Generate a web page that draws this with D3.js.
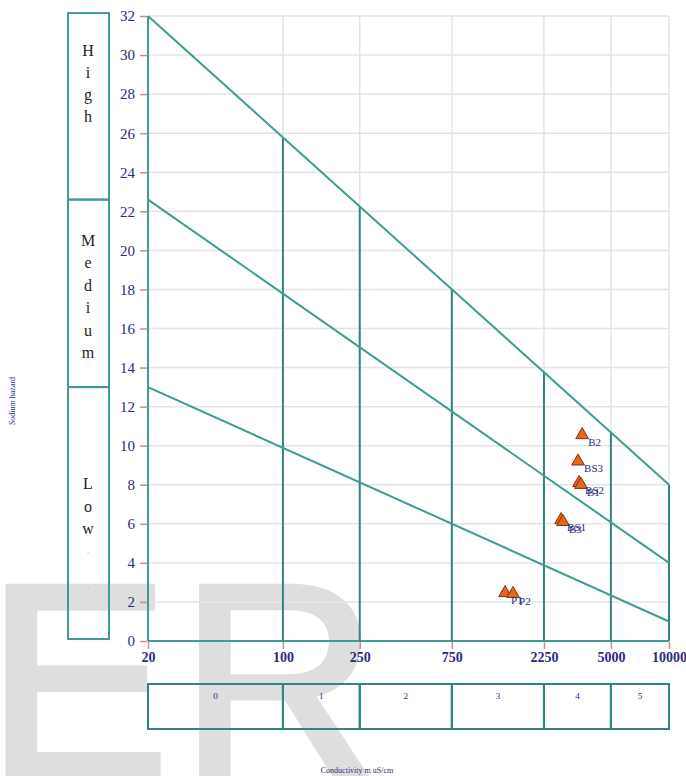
<!DOCTYPE html>
<html>
<head>
<meta charset="utf-8">
<script src="https://cdn.jsdelivr.net/npm/d3@7/dist/d3.min.js"></script>
<style>
body { margin: 0; background: #fff; }
svg { display: block; }
</style>
</head>
<body>
<svg width="686" height="776"></svg>
<script>
// conductivity ticks (uS/cm) and sodium hazard ticks
var ecTicks = [20, 100, 250, 750, 2250, 5000, 10000];
var sarTicks = [0, 2, 4, 6, 8, 10, 12, 14, 16, 18, 20, 22, 24, 26, 28, 30, 32];
var salinityClasses = ["0", "1", "2", "3", "4", "5"];

// sodium hazard classes: label, top and bottom SAR at EC=20
var hazardNames = ["High", "Medium", "Low"];
var hazardTop = [32.15, 22.6, 13];
var hazardBottom = [22.6, 13, 0.1];

// boundary lines: SAR at EC=20 and at EC=10000
var lineStart = [32, 22.6, 13];
var lineEnd = [8, 4, 1];

// samples
var sampleNames = ["B2", "BS3", "BS2", "B1", "BS1", "B3", "P1", "P2"];
var sampleEC = [3548, 3380, 3420, 3500, 2760, 2825, 1415, 1556];
var sampleSAR = [10.55, 9.2, 8.1, 8.0, 6.2, 6.1, 2.46, 2.42];

var svg = d3.select("svg");
var teal = "#3f9c95";
var navy = "#2b2c7c";

var x = d3.scaleLog().domain([20, 10000]).range([148, 669]);
var y = d3.scaleLinear().domain([0, 32]).range([641, 16]);

// watermark, behind the chart
svg.append("text")
  .attr("x", -14).attr("y", 776)
  .attr("fill", "#dedede")
  .attr("stroke", "#dedede").attr("stroke-width", 6)
  .style("font-family", "Liberation Sans, Arial, sans-serif")
  .style("font-size", "275px")
  .style("letter-spacing", "10px")
  .text("ER");

// gridlines
svg.append("g")
  .selectAll("line")
  .data(sarTicks)
  .enter()
  .append("line")
  .attr("x1", x(20)).attr("x2", x(10000))
  .attr("y1", d => y(d)).attr("y2", d => y(d))
  .attr("stroke", "#e4e4e4").attr("stroke-width", 1.5);

svg.append("g")
  .selectAll("line")
  .data(ecTicks)
  .enter()
  .append("line")
  .attr("x1", d => x(d)).attr("x2", d => x(d))
  .attr("y1", y(0)).attr("y2", y(32))
  .attr("stroke", "#e4e4e4").attr("stroke-width", 1.5);

// y axis
var yAxis = svg.append("g")
  .attr("transform", "translate(" + (x(20) - 1) + ",0)")
  .call(d3.axisLeft(y).tickValues(sarTicks).tickSize(7).tickPadding(5));
yAxis.select(".domain").remove();
yAxis.selectAll(".tick line").attr("stroke", "#d88888").attr("stroke-width", 1.5);
yAxis.selectAll(".tick text")
  .attr("fill", navy)
  .style("font-family", "Liberation Serif, serif")
  .style("font-size", "15px");

// x axis
var xAxis = svg.append("g")
  .attr("transform", "translate(0," + (y(0) + 1) + ")")
  .call(d3.axisBottom(x).tickValues(ecTicks).tickFormat(d3.format("d")).tickSize(7).tickPadding(3));
xAxis.select(".domain").remove();
xAxis.selectAll(".tick line").attr("stroke", "#d88888").attr("stroke-width", 1.5);
xAxis.selectAll(".tick text")
  .attr("fill", navy)
  .style("font-family", "Liberation Serif, serif")
  .style("font-size", "14px")
  .style("font-weight", "bold");

// diagram frame: left edge and bottom
svg.append("line")
  .attr("x1", x(20)).attr("x2", x(20))
  .attr("y1", y(0)).attr("y2", y(32))
  .attr("stroke", teal).attr("stroke-width", 2);
svg.append("line")
  .attr("x1", x(20)).attr("x2", x(10000))
  .attr("y1", y(0)).attr("y2", y(0))
  .attr("stroke", teal).attr("stroke-width", 2);

// vertical class lines, from 0 up to the top boundary
function topLine(ec) {
  var t = (Math.log10(ec) - Math.log10(20)) / (Math.log10(10000) - Math.log10(20));
  return lineStart[0] + (lineEnd[0] - lineStart[0]) * t;
}
svg.append("g")
  .selectAll("line")
  .data(ecTicks.slice(1))
  .enter()
  .append("line")
  .attr("x1", d => x(d)).attr("x2", d => x(d))
  .attr("y1", y(0)).attr("y2", d => y(topLine(d)))
  .attr("stroke", "#2f8580").attr("stroke-width", 2);

// boundary lines
svg.append("g")
  .selectAll("line")
  .data(lineStart)
  .enter()
  .append("line")
  .attr("x1", x(20)).attr("x2", x(10000))
  .attr("y1", d => y(d)).attr("y2", (d, i) => y(lineEnd[i]))
  .attr("stroke", teal).attr("stroke-width", 2);

// sodium hazard boxes on the left
var hz = svg.append("g");
hz.selectAll("rect")
  .data(hazardNames)
  .enter()
  .append("rect")
  .attr("x", 68).attr("width", 41)
  .attr("y", (d, i) => y(hazardTop[i]))
  .attr("height", (d, i) => y(hazardBottom[i]) - y(hazardTop[i]))
  .attr("fill", "none").attr("stroke", teal).attr("stroke-width", 2);

hazardNames.forEach(function(name, i) {
  var letters = name.split("");
  if (name == "Low") letters = letters.concat([".", "."]);
  var step = [22, 22.4, 22.5][i];
  var start = [56, 246, 489][i];
  hz.selectAll(".l" + i)
    .data(letters)
    .enter()
    .append("text")
    .attr("x", 88)
    .attr("y", (d, j) => j < name.length ? start + j * step : start + name.length * step - 4 + (j - name.length) * 35)
    .attr("text-anchor", "middle")
    .attr("fill", (d, j) => j < name.length ? "#2a221c" : "#888")
    .style("font-family", "Liberation Serif, serif")
    .style("font-size", (d, j) => j < name.length ? "16px" : "8px")
    .text(d => d);
});

// salinity class boxes below
var cls = svg.append("g");
cls.selectAll("rect")
  .data(salinityClasses)
  .enter()
  .append("rect")
  .attr("x", (d, i) => x(ecTicks[i]))
  .attr("width", (d, i) => x(ecTicks[i + 1]) - x(ecTicks[i]))
  .attr("y", 684).attr("height", 45)
  .attr("fill", "none").attr("stroke", "#2f8580").attr("stroke-width", 2);
cls.selectAll("text")
  .data(salinityClasses)
  .enter()
  .append("text")
  .attr("x", (d, i) => (x(ecTicks[i]) + x(ecTicks[i + 1])) / 2)
  .attr("y", 699)
  .attr("text-anchor", "middle")
  .attr("fill", navy)
  .style("font-family", "Liberation Serif, serif")
  .style("font-size", "9px")
  .text(d => d);

// axis titles
svg.append("text")
  .attr("transform", "translate(15,401) rotate(-90)")
  .attr("text-anchor", "middle")
  .attr("fill", navy)
  .style("font-family", "Liberation Serif, serif")
  .style("font-size", "8px")
  .text("Sodium hazard");

svg.append("text")
  .attr("x", 357).attr("y", 773)
  .attr("text-anchor", "middle")
  .attr("fill", navy)
  .style("font-family", "Liberation Serif, serif")
  .style("font-size", "8px")
  .text("Conductivity m uS/cm");

// samples
var tri = d3.symbol().type(d3.symbolTriangle).size(70);
var pts = svg.append("g");
pts.selectAll("path")
  .data(sampleNames)
  .enter()
  .append("path")
  .attr("d", tri)
  .attr("transform", (d, i) => "translate(" + x(sampleEC[i]) + "," + y(sampleSAR[i]) + ")")
  .attr("fill", "#e8661c")
  .attr("stroke", "#7a3412").attr("stroke-width", 1);
pts.selectAll("text")
  .data(sampleNames)
  .enter()
  .append("text")
  .attr("x", (d, i) => x(sampleEC[i]) + 6)
  .attr("y", (d, i) => y(sampleSAR[i]) + 11)
  .attr("fill", navy)
  .style("font-family", "Liberation Serif, serif")
  .style("font-size", "11px")
  .text(d => d);
</script>
</body>
</html>
